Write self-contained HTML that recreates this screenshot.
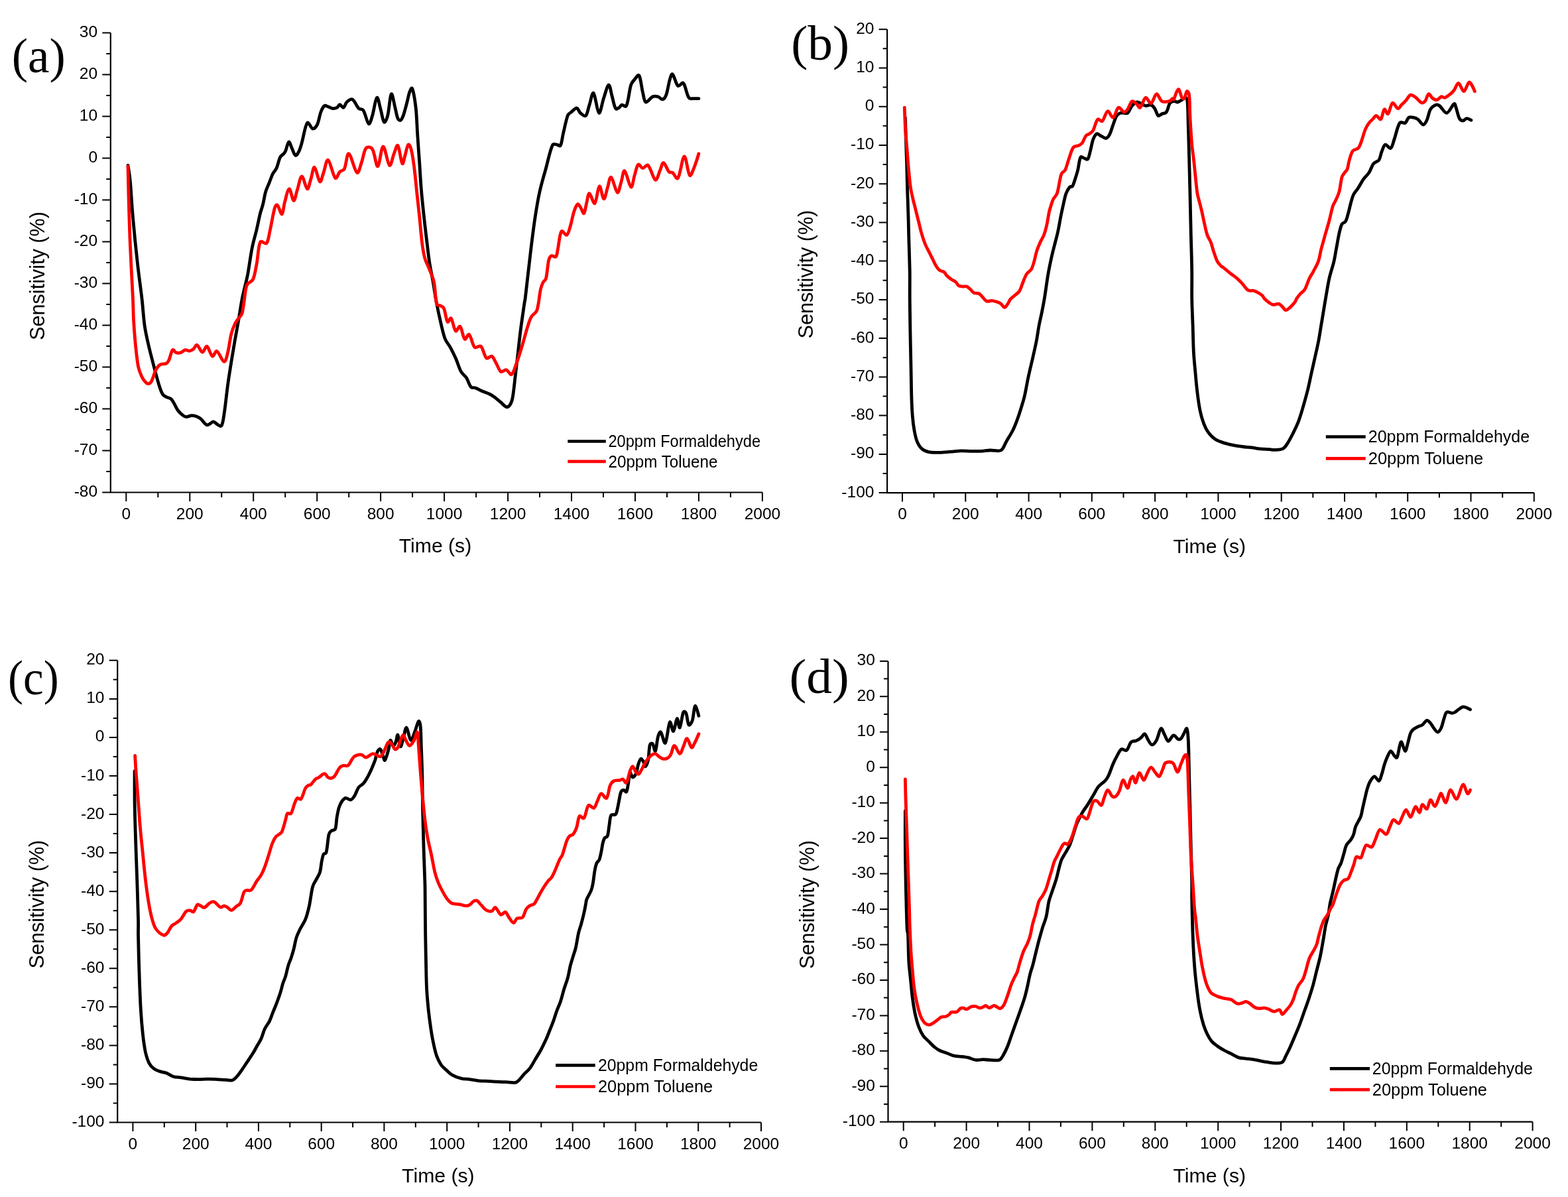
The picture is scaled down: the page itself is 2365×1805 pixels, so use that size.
<!DOCTYPE html>
<html><head><meta charset="utf-8"><title>Sensitivity plots</title>
<style>html,body{margin:0;padding:0;background:#fff;overflow:hidden;}svg{display:block;}</style></head>
<body><svg width="2365" height="1805" viewBox="0 0 2365 1805">
<rect width="100%" height="100%" fill="#fff"/>
<path d="M166.8 49.4V742.5H1149.9" fill="none" stroke="#000" stroke-width="2.2" stroke-linejoin="miter"/>
<path d="M154.3 49.4H166.8M160.3 80.9H166.8M154.3 112.4H166.8M160.3 143.9H166.8M154.3 175.4H166.8M160.3 206.9H166.8M154.3 238.4H166.8M160.3 269.9H166.8M154.3 301.4H166.8M160.3 332.9H166.8M154.3 364.4H166.8M160.3 395.9H166.8M154.3 427.4H166.8M160.3 458.9H166.8M154.3 490.4H166.8M160.3 522H166.8M154.3 553.5H166.8M160.3 585H166.8M154.3 616.5H166.8M160.3 648H166.8M154.3 679.5H166.8M160.3 711H166.8M154.3 742.5H166.8M190.3 742.5V756M238.3 742.5V750M286.3 742.5V756M334.2 742.5V750M382.2 742.5V756M430.2 742.5V750M478.2 742.5V756M526.2 742.5V750M574.1 742.5V756M622.1 742.5V750M670.1 742.5V756M718.1 742.5V750M766.1 742.5V756M814 742.5V750M862 742.5V756M910 742.5V750M958 742.5V756M1006 742.5V750M1053.9 742.5V756M1101.9 742.5V750M1149.9 742.5V756" fill="none" stroke="#000" stroke-width="2"/>
<g font-family="'Liberation Sans', Arial, sans-serif" font-size="24.5"><text x="147.1" y="55.9" text-anchor="end">30</text><text x="147.1" y="118.9" text-anchor="end">20</text><text x="147.1" y="181.9" text-anchor="end">10</text><text x="147.1" y="244.9" text-anchor="end">0</text><text x="147.1" y="307.9" text-anchor="end">-10</text><text x="147.1" y="370.9" text-anchor="end">-20</text><text x="147.1" y="433.9" text-anchor="end">-30</text><text x="147.1" y="496.9" text-anchor="end">-40</text><text x="147.1" y="560" text-anchor="end">-50</text><text x="147.1" y="623" text-anchor="end">-60</text><text x="147.1" y="686" text-anchor="end">-70</text><text x="147.1" y="749" text-anchor="end">-80</text><text x="190.3" y="782.5" text-anchor="middle">0</text><text x="286.3" y="782.5" text-anchor="middle">200</text><text x="382.2" y="782.5" text-anchor="middle">400</text><text x="478.2" y="782.5" text-anchor="middle">600</text><text x="574.1" y="782.5" text-anchor="middle">800</text><text x="670.1" y="782.5" text-anchor="middle">1000</text><text x="766.1" y="782.5" text-anchor="middle">1200</text><text x="862" y="782.5" text-anchor="middle">1400</text><text x="958" y="782.5" text-anchor="middle">1600</text><text x="1053.9" y="782.5" text-anchor="middle">1800</text><text x="1149.9" y="782.5" text-anchor="middle">2000</text></g>
<text x="656.5" y="832.7" text-anchor="middle" font-family="'Liberation Sans', Arial, sans-serif" font-size="30.2">Time (s)</text>
<text transform="translate(67.1 416) rotate(-90)" text-anchor="middle" font-family="'Liberation Sans', Arial, sans-serif" font-size="30.6">Sensitivity (%)</text>
<text transform="translate(17.8 109.1) scale(0.987 1)" font-family="'Liberation Serif', 'Times New Roman', serif" font-size="74">(a)</text>
<path d="M856.3 665.5H913.8" stroke="#000" stroke-width="4.7"/>
<path d="M856.3 695.9H913.8" stroke="#f00" stroke-width="4.7"/>
<g font-family="'Liberation Sans', Arial, sans-serif" font-size="24.9"><text transform="translate(917.5 674.2) scale(0.9480 1)">20ppm Formaldehyde</text><text transform="translate(917.5 704.6) scale(0.9710 1)">20ppm Toluene</text></g>
<path d="M193 249.4C193 249.4 195.3 262.4 196.3 272.6C197.8 288.3 198.6 307.8 200.4 327.1C202.3 348.7 204.8 373.7 207.2 395.3C209.3 414.7 212 433 214 450.1C215.7 464.8 216.3 478.4 218.1 490.9C219.5 501.1 221.4 508.6 223.5 518.2C225.9 528.6 228.9 540.2 231.7 550.9C234.4 561.1 237.2 572.2 239.9 580.8C241.7 586.8 243.2 591 245.3 594.5C246.8 596.9 248.8 597.5 250.8 598.6C252.9 599.7 255.8 599.9 257.6 601.3C259.4 602.6 260.2 604.3 261.7 606.7C263.8 610.2 266 615.5 268.5 619C270.6 621.9 273.1 624.1 275.3 625.8C277.1 627.2 278.7 628.4 280.8 628.6C283.2 628.7 286.3 626.8 289 626.6C291.3 626.5 293.6 627 295.8 627.7C298.1 628.5 300.2 629.4 302.6 631.3C305.7 633.8 308.8 640 312.1 640.8C315.1 641.6 318.9 636.2 321.7 635.9C323.9 635.7 325.1 638.4 327.1 639.5C329.2 640.5 332.5 644.1 333.9 642.2C336.2 639.1 336.8 632.5 338 624.5C340 612 341.6 594.7 343.5 580.8C345.2 568.3 347.1 557 348.9 545.4C350.7 534.3 352.5 523.4 354.4 512.7C356.2 502.5 358.1 492.9 359.8 482.7C361.7 472 363.1 461.1 365.3 450C367.6 438.3 371 426.7 373.5 414.4C376 401.2 377.8 385.9 380.3 373.5C382.3 363.2 385 355.1 387.1 346.2C389.1 337.8 390.7 328.9 392.5 321.7C393.9 316.2 395.4 313.1 396.6 308C398.1 302.2 399 294.8 400.7 289C402.2 283.9 404.4 279.9 406.2 275.3C408 270.8 409.6 265.7 411.6 261.7C413.3 258.4 415.5 257 417.1 253.5C419.2 248.9 420.4 241.5 422.5 237.2C424 234.3 426.5 233.5 428 231.7C429.2 230.3 429.8 229.8 430.7 227.6C432.3 223.9 433.9 214.7 435.6 214C437.1 213.4 438.6 220.2 440.3 223.5C442 227.1 443.7 233.7 445.7 234.4C447.4 235.1 449.7 230.5 451.2 227.6C452.9 224.1 453.6 220.9 455.2 215.4C457.7 206.8 460.1 189.7 463.4 185.4C465.5 182.7 468.9 193.6 471.6 194.1C473.9 194.5 476.8 191.5 478.4 188.1C480.9 183.1 481.8 174.5 483.9 169C485.4 164.9 487.2 161.1 489.3 159.5C490.8 158.3 492.9 160.2 494.8 160.8C497 161.6 499.3 163.3 501.6 163.6C503.8 163.8 506.5 163.2 508.4 162.2C510.2 161.2 511 157.6 512.5 157.6C514.1 157.6 516.3 162.8 517.9 162.2C519.9 161.5 521 155.6 523.4 153.5C525.6 151.5 529.1 148.5 531.6 149.9C535 151.9 537.8 160.3 541.1 163.6C543.3 165.7 546.1 163.5 547.9 166.3C551.1 171.2 553.6 185.2 556.1 186.7C558.1 187.9 559.9 179.9 561.6 174.5C564 166.7 566.1 149.2 568.4 147.2C570.2 145.6 572.1 157.7 573.8 163.6C575.7 170 577.2 181.9 579.3 184C580.8 185.5 583.4 179.6 584.7 174.5C587 165.5 588.1 144.3 590.2 141.8C591.8 139.8 594 154.6 595.6 160.8C597.2 166.8 598.1 174.1 600 178.6C601 180.9 602.9 181.9 604.1 181.3C605.6 180.5 606.9 177.8 608.2 174.5C610.1 169.2 612 161.5 613.6 155.4C615.2 149.7 616.1 143.5 617.7 139C618.8 136.2 620.8 131 621.8 133.6C624 139.1 626 152.4 627.3 163.6C628.7 176.9 629 193.1 630 207.2C630.9 220.4 631.8 232.4 632.7 245.3C633.6 258.7 634.3 272.6 635.4 286.2C636.6 299.9 638.1 314 639.5 327.1C640.8 339.4 642.2 351 643.6 362.6C645 373.7 646.1 384.6 647.7 395.3C649.3 405.5 651.5 415.7 653.2 425.3C654.7 433.9 655.7 441.6 657.2 450C658.9 458.9 660.5 467.7 662.7 477.3C665.1 487.7 667.6 500.8 670.9 510C673.1 516.3 676.4 518.8 679.1 523.6C681.9 528.8 684.6 534.1 687.2 540C690.1 546.4 692.3 554.7 695.4 560.4C697.8 564.7 701.2 566.3 703.6 569.9C706.2 574 707.7 580.6 710.4 583.6C712.2 585.6 714.9 584.1 717.2 584.9C719.9 585.9 722.2 587.6 725.4 589C729.5 590.8 735 592.5 739 594.5C742.3 596.1 744.5 597.9 747.2 599.9C750 602 752.7 604.5 755.4 606.7C758.1 609 761 612.8 763.6 613.6C765.5 614.1 767.7 612.7 769 610.8C770.9 608.2 772.1 605.4 773.1 599.9C774.8 590.8 775.9 578.4 777.2 567.2C778.6 555.6 779.9 543.6 781.3 531.8C782.6 520 783.8 508.4 785.4 496.3C787 483.8 789.3 468.7 790.8 458.2C791.5 453.3 791.6 454.8 792.2 450.1C793.4 440.2 794.8 427.1 796.3 414.4C798 399.8 799.9 383 801.7 368C803.5 353.9 805.1 340.5 807.2 327.1C809.2 314.2 811.2 301.4 814 289C816.7 276.9 820.3 265.2 823.5 253.5C826.7 242 829.3 227.6 833.1 219.4C834.8 215.8 837.7 218.1 839.9 218.1C841.8 218.1 844.2 221.4 845.3 219.4C847.4 215.9 847.8 208.4 849.4 201.7C851.4 193.4 853.6 181.6 856.2 174.5C857.7 170.7 859.6 170.8 861.7 169C864.1 167 867.5 162.8 869.9 163C872.1 163.2 873.1 168.5 875.3 170.4C877.6 172.3 881.6 176.2 883.5 174.5C886.1 172.1 887 163.7 889 158.1C891 152.3 893.1 138.6 895.2 140.4C897.9 142.7 900.7 169.2 903.4 170.4C905.8 171.4 908.2 154.6 910.8 147.2C913.1 140.5 916 128.6 918.1 128.1C920.1 127.7 921.4 138.8 923 144.5C924.8 150.6 926.1 159.7 928.5 163.6C929.7 165.6 932.4 163.1 933.9 162.2C935.5 161.3 936.3 158.5 938 158.1C939.9 157.6 943.4 162.6 944.8 159.5C947.9 152.7 949 136.6 951.7 128.1C953.1 123.4 955 122.4 957.1 119.9C959.1 117.6 962.4 111.6 963.9 113.9C966.5 117.9 967.5 131.5 969.4 139C970.9 144.9 971.4 152.8 974 154C976.4 155.1 980.9 147.4 984.4 145.8C987.1 144.6 990 145.2 992.5 145.8C995 146.5 997.4 150.4 999.4 149.9C1001.5 149.5 1003.4 146.9 1004.8 143.1C1007.1 136.9 1008.3 126.4 1010.3 119.9C1011.5 115.9 1012.7 110.5 1014.4 111.8C1016.8 113.7 1019.3 126.8 1022.5 129.5C1024.8 131.3 1028.6 123.1 1030.7 125.4C1034.1 129 1035.5 142.4 1038.9 147.2C1040.9 150.1 1044.4 148.3 1047.1 148.6C1049.4 148.8 1053.9 148.6 1053.9 148.6" fill="none" stroke="#000" stroke-width="4.8" stroke-linejoin="round" stroke-linecap="round"/>
<path d="M193 250.8C193 250.8 193.6 281.9 194.1 299.9C194.7 321 195.3 344.1 196.3 368C197.4 394.2 199.3 426.4 200.4 450.1C201.1 465.6 201 473.6 201.7 485.4C202.4 497.3 203.3 509.4 204.5 520.9C205.6 531.8 206.7 543.6 208.5 552.8C209.8 559.2 211.7 563.4 213.7 567.8C215.3 571.2 217.2 573.9 219.2 575.9C220.6 577.5 222.3 578.9 223.8 578.7C225.5 578.4 227.4 577 228.7 574.6C230.8 570.7 232.3 563.8 234.2 559.6C235.5 556.6 236.7 554.6 238.3 552.8C239.5 551.2 240.7 550.2 242.6 549.5C244.9 548.6 248.7 549.3 250.8 548.1C252.7 547.1 253.6 545.4 254.9 542.7C256.8 538.6 258.1 529.9 260.3 527.7C261.8 526.3 263.7 531.1 265.8 531.8C267.8 532.5 270.4 532.4 272.6 531.8C275 531.1 277.1 528.2 279.4 527.7C281.6 527.3 284.1 529.3 286.2 529.1C288.2 528.8 290 527.7 291.7 526.3C293.6 524.8 295.2 519.6 297.1 520.3C299.7 521.3 302.7 530.9 305.3 531.2C307.7 531.5 309.9 521.3 312.1 522.2C314.9 523.3 317.5 535.9 320.3 537.2C322.5 538.3 324.6 528.4 327.1 529.6C330.5 531.2 335.1 545 338 545.4C340.6 545.8 342 537.6 343.5 531.8C345.6 523.5 346.8 511.5 348.9 503.2C350.5 497 352.3 492.5 354.4 488.2C356 484.8 358 482.7 359.8 480C361.7 477.3 364 476.8 365.3 471.8C367.7 462.2 368.9 446 370.7 436.2C371.6 431.4 371.7 430.4 373.5 428C375.4 425.4 379.8 425.2 381.6 421.2C384.4 415.2 385.4 406.5 387.1 398C389.1 387.9 389.3 372.1 392.5 365.3C394.3 361.6 400.1 369.2 402.1 366.7C405.1 362.9 405.7 354.1 407.5 346.2C409.8 336.3 411.8 322.2 414.4 313.5C415.4 309.9 417.1 308.2 418.4 309.4C420.7 311.4 423.5 323.7 425.3 323C427.2 322.3 427.6 311.4 429.4 305.3C431.2 298.7 433.8 285.3 436.2 284.9C438.4 284.4 440.9 302.4 443 302.6C445 302.8 446.5 292 448.4 286.2C450.6 279.8 452.7 266 455.2 265.8C457.7 265.6 461 284.1 463.4 284.9C465.5 285.5 467.1 275.1 468.9 269.9C470.8 264.2 472.2 251.5 474.3 252.2C476.7 252.9 480 272.4 482.5 274C484.5 275.2 486.1 265.3 488 260.3C490.2 254.4 492.1 240 494.8 241.3C498 242.7 502.1 264.9 505.7 268.5C508 270.8 510 261.5 512.5 259C514.5 256.9 517.7 258.2 519.3 254.9C522.2 249.1 523.1 230.9 526.1 231.7C529.5 232.7 534.7 257.7 538.4 260.3C541.1 262.2 543.1 251 545.2 245.3C547.7 238.7 548.7 227.7 552 223.5C554.2 220.9 559.4 221.5 561.6 224.9C565.3 230.6 567.1 251.5 569.7 250.8C572.6 250.1 574.9 221 577.9 220.8C580.9 220.6 584.4 247.4 587.5 249.4C589.9 251 592 237.1 594.3 231.7C596.2 227.1 598.3 217.4 600 219.4C602.5 222.4 604.6 243.7 606.8 246.7C608.3 248.7 609.5 238.9 610.9 234.4C612.5 229.3 614 219.6 615.8 218.1C617.2 216.9 619.3 222.1 620.4 226.3C622.2 233 623.3 241.5 624.5 250.8C626 262.4 627.3 276.2 628.6 289C630 301.7 631.4 314.2 632.7 327.1C634.1 340.5 635.2 356 636.8 368C638 376.9 639 383.1 640.9 389.8C642.6 395.8 645.5 400.5 647.7 406.2C650.1 412.3 652.9 417.7 654.5 425.3C656.6 435 656.4 449.9 658.6 458.2C659.6 461.7 662.3 459.8 664.1 460.9C665.9 462.1 668.2 462 669.5 465C671.8 470.2 672.7 482.3 675 485.4C676.3 487.3 678.9 478.3 680.4 480C682.9 482.8 684.5 496.6 687.2 499.1C689.1 500.7 692.2 490.6 694 492.3C696.7 494.7 698.2 508.9 700.9 511.3C702.7 513 705.7 502.9 707.7 504.5C710.7 507 712.3 520.1 715.9 523.6C718.2 526 723 520 725.4 522.2C728.9 525.4 730.3 537 733.6 540C735.8 542 739.5 536 741.8 537.2C744.5 538.7 746.3 544.4 748.6 548.1C750.9 552.1 752.6 558.6 755.4 560.4C757.6 561.8 761 557 763.6 557.7C766.4 558.4 769.5 566.2 771.7 564.5C774.9 562.1 777.4 552.4 779.9 545.4C782.8 537.4 785.4 528.4 788.1 519.5C790.9 510.2 793.6 499.2 796.3 490.9C798.1 485.1 799.4 481.3 801.7 477.3C803.9 473.5 808.2 473 809.9 467.7C812.7 459.3 813.4 445 815.4 436.2C816.6 430.8 817.9 428.4 819.4 425.3C820.6 422.9 822.6 423.4 823.5 419.8C825.4 412.5 825.9 399.9 827.6 392.5C828.6 388.6 829.8 386.7 831.7 385.7C833.5 384.9 837.1 388.5 838.5 387.1C840.3 385.3 840.2 381.1 841.3 376.2C842.9 368.4 843.9 353.5 846.7 348.9C848.4 346.2 852.8 355.6 854.9 354.4C857.4 352.9 858.7 346 860.3 340.8C862.3 334.2 863.7 325.2 865.8 318.9C867.3 314.3 869.4 309.4 871.2 308C872.5 307.1 874 310.2 875.3 312.1C877.2 314.8 879.4 322.7 880.8 321.7C882.5 320.4 883.4 310.5 884.9 305.3C886.2 300.5 887 291.5 889 291.7C891.1 291.9 894.9 308.3 897.1 306.7C899.9 304.7 901.5 282 904 280.8C906.1 279.7 908.6 299.4 910.8 299.9C912.7 300.3 914.4 289 916.2 283.5C918 278.1 919.4 266.1 921.7 267.2C924.4 268.4 928.4 288.8 931.2 290.3C933.4 291.5 934.9 280.6 936.7 275.3C938.6 269.7 939.8 256.6 942.1 257.6C944.8 258.8 948.9 280.9 951.7 282.1C953.9 283.2 955.3 270.2 957.1 264.4C958.9 258.8 960.2 250.2 962.6 248.1C964.3 246.6 966.9 253.3 969.4 253.5C971.9 253.8 975.1 247.2 977.6 249.4C981.5 253.1 985.2 269.7 988.5 271.2C991.1 272.4 993.2 262.1 995.3 257.6C997.3 253.4 998.6 245.1 1000.7 245.3C1003.1 245.6 1006.1 255.8 1008.9 259C1010.6 260.8 1012.5 259 1014.4 260.3C1017 262.2 1020.4 271.5 1022.5 268.5C1026.3 263.3 1029 236.5 1032.1 235.8C1034.9 235.1 1037.3 261.2 1040.3 264.4C1042.3 266.6 1045 257 1047.1 252.2C1049.6 246.1 1053.9 231.7 1053.9 231.7" fill="none" stroke="#f00" stroke-width="4.8" stroke-linejoin="round" stroke-linecap="round"/>
<path d="M1338.1 44.2V743.1H2313.8" fill="none" stroke="#000" stroke-width="2.2" stroke-linejoin="miter"/>
<path d="M1325.6 44.2H1338.1M1331.6 73.3H1338.1M1325.6 102.4H1338.1M1331.6 131.6H1338.1M1325.6 160.7H1338.1M1331.6 189.8H1338.1M1325.6 218.9H1338.1M1331.6 248H1338.1M1325.6 277.2H1338.1M1331.6 306.3H1338.1M1325.6 335.4H1338.1M1331.6 364.5H1338.1M1325.6 393.6H1338.1M1331.6 422.8H1338.1M1325.6 451.9H1338.1M1331.6 481H1338.1M1325.6 510.1H1338.1M1331.6 539.3H1338.1M1325.6 568.4H1338.1M1331.6 597.5H1338.1M1325.6 626.6H1338.1M1331.6 655.7H1338.1M1325.6 684.9H1338.1M1331.6 714H1338.1M1325.6 743.1H1338.1M1361 743.1V756.6M1408.6 743.1V750.6M1456.3 743.1V756.6M1503.9 743.1V750.6M1551.6 743.1V756.6M1599.2 743.1V750.6M1646.8 743.1V756.6M1694.5 743.1V750.6M1742.1 743.1V756.6M1789.8 743.1V750.6M1837.4 743.1V756.6M1885 743.1V750.6M1932.7 743.1V756.6M1980.3 743.1V750.6M2028 743.1V756.6M2075.6 743.1V750.6M2123.2 743.1V756.6M2170.9 743.1V750.6M2218.5 743.1V756.6M2266.2 743.1V750.6M2313.8 743.1V756.6" fill="none" stroke="#000" stroke-width="2"/>
<g font-family="'Liberation Sans', Arial, sans-serif" font-size="24.5"><text x="1318.4" y="50.7" text-anchor="end">20</text><text x="1318.4" y="108.9" text-anchor="end">10</text><text x="1318.4" y="167.2" text-anchor="end">0</text><text x="1318.4" y="225.4" text-anchor="end">-10</text><text x="1318.4" y="283.7" text-anchor="end">-20</text><text x="1318.4" y="341.9" text-anchor="end">-30</text><text x="1318.4" y="400.1" text-anchor="end">-40</text><text x="1318.4" y="458.4" text-anchor="end">-50</text><text x="1318.4" y="516.6" text-anchor="end">-60</text><text x="1318.4" y="574.9" text-anchor="end">-70</text><text x="1318.4" y="633.1" text-anchor="end">-80</text><text x="1318.4" y="691.4" text-anchor="end">-90</text><text x="1318.4" y="749.6" text-anchor="end">-100</text><text x="1361" y="783.1" text-anchor="middle">0</text><text x="1456.3" y="783.1" text-anchor="middle">200</text><text x="1551.6" y="783.1" text-anchor="middle">400</text><text x="1646.8" y="783.1" text-anchor="middle">600</text><text x="1742.1" y="783.1" text-anchor="middle">800</text><text x="1837.4" y="783.1" text-anchor="middle">1000</text><text x="1932.7" y="783.1" text-anchor="middle">1200</text><text x="2028" y="783.1" text-anchor="middle">1400</text><text x="2123.2" y="783.1" text-anchor="middle">1600</text><text x="2218.5" y="783.1" text-anchor="middle">1800</text><text x="2313.8" y="783.1" text-anchor="middle">2000</text></g>
<text x="1824.3" y="833.9" text-anchor="middle" font-family="'Liberation Sans', Arial, sans-serif" font-size="30.2">Time (s)</text>
<text transform="translate(1225.8 413.6) rotate(-90)" text-anchor="middle" font-family="'Liberation Sans', Arial, sans-serif" font-size="30.6">Sensitivity (%)</text>
<text transform="translate(1193.2 90) scale(1.018 1)" font-family="'Liberation Serif', 'Times New Roman', serif" font-size="74">(b)</text>
<path d="M1999.8 658.6H2059.7" stroke="#000" stroke-width="4.7"/>
<path d="M1999.8 691.3H2059.7" stroke="#f00" stroke-width="4.7"/>
<g font-family="'Liberation Sans', Arial, sans-serif" font-size="24.9"><text transform="translate(2063.8 667.3) scale(1.0050 1)">20ppm Formaldehyde</text><text transform="translate(2063.8 700) scale(1.0220 1)">20ppm Toluene</text></g>
<path d="M1365.4 177.2C1365.4 177.2 1365.9 194.2 1366.2 204.5C1366.6 217 1367.1 231.7 1367.6 245.3C1368 259 1368.2 272.6 1368.6 286.2C1369.1 299.9 1369.6 314.2 1370 327.1C1370.3 338.7 1370.5 347.6 1370.8 359.8C1371.2 374.8 1371.9 393.2 1372.2 408.9C1372.4 423.3 1372.1 435.2 1372.2 450C1372.3 467.1 1372.7 486.3 1373 504.5C1373.3 522.7 1373.8 542 1374.1 559C1374.4 573.8 1374.5 587.4 1374.9 599.9C1375.2 610.1 1375.6 618.6 1376.3 627.2C1376.9 634.9 1377.8 642.2 1379 649C1380.1 654.9 1381.1 660.5 1383.1 665.4C1384.8 669.6 1386.9 673.5 1389.9 676.3C1392.8 679 1396.6 680.8 1400.8 681.7C1405.7 682.8 1411.7 682.3 1417.2 682.3C1422.6 682.2 1428.1 681.6 1433.5 681.2C1439 680.8 1444.4 679.9 1449.9 679.8C1455.3 679.7 1461 680.3 1466.2 680.3C1471 680.4 1475.3 680.6 1479.9 680.3C1484.4 680.1 1488.7 679.2 1493.5 679C1498.7 678.7 1505.7 681.3 1509.9 679C1513.9 676.7 1515.2 670.1 1518 665.4C1521.1 660.1 1524.8 654.5 1527.6 649C1530.3 643.6 1532.3 638.1 1534.4 632.6C1536.4 627.2 1538.1 622 1539.8 616.3C1541.7 610.2 1543.6 604.3 1545.3 597.2C1547.3 588.8 1548.7 579.2 1550.7 569.9C1552.8 560.2 1555.4 549.5 1557.6 540C1559.5 531.3 1561.4 523.6 1563 515.4C1564.6 507.3 1565.7 498.6 1567.1 490.9C1568.4 484.1 1569.9 478.4 1571.2 471.8C1572.6 464.8 1573.9 458.5 1575.3 450.1C1577.1 439.3 1578.8 425.5 1580.7 414.4C1582.4 404.5 1584.3 395.7 1586.2 387.1C1587.9 379.4 1589.9 372.1 1591.6 365.3C1593.1 359.4 1594.5 354.9 1595.7 348.9C1597.2 342.1 1598.4 334.2 1599.8 327.1C1601.1 320.5 1602.5 314.2 1603.9 308C1605.2 302.4 1606.2 296.5 1608 291.7C1609.4 287.8 1611.5 284.4 1613.4 282.1C1614.7 280.7 1616.5 282.3 1617.5 280.8C1619.2 278.2 1620.3 273.8 1621.6 269.9C1623 265.6 1624.5 261.3 1625.7 256.2C1627.2 250.4 1627.7 241 1629.8 237.2C1630.9 235.1 1633.4 238.1 1635.2 238.5C1637.1 239 1639.5 241.5 1640.7 239.9C1642.7 237.4 1643.5 231 1644.8 226.3C1646.2 221.1 1647.1 214.5 1648.9 209.9C1650.3 206.4 1652.3 202.7 1654.3 201.7C1655.9 200.9 1657.7 203.4 1659.8 204.5C1662.3 205.7 1665.6 208.8 1668 208.5C1670.1 208.3 1671.9 205.9 1673.4 203.1C1675.6 199.1 1677 193 1678.9 188.1C1680.6 183.4 1682.2 178 1684.3 174.5C1685.8 172.1 1687.8 171.1 1689.8 170.4C1691.5 169.7 1693.4 170.4 1695.2 170.4C1697 170.4 1699.1 171.8 1700.7 170.4C1703.1 168.2 1705 162.5 1707.5 159.5C1709.5 157 1712 154.8 1714.3 154C1716.1 153.4 1717.8 154.6 1719.8 155.4C1722.3 156.4 1725.1 159 1727.9 159.5C1730.6 159.9 1733.8 157.4 1736.1 158.1C1738.3 158.8 1740 161.1 1741.6 163.6C1743.6 166.6 1744.9 172.9 1747 174.5C1748.5 175.6 1750.5 172.6 1752.5 171.7C1754.6 170.8 1757.6 171.3 1759.3 169C1761.7 165.8 1762.3 158.6 1764.7 155.4C1766.4 153.1 1769.5 152.9 1771.5 152.7C1773.2 152.5 1774.4 154.2 1775.9 154C1777.7 153.8 1779.4 152.4 1781.4 151.3C1783.5 150.1 1786.5 147 1788.2 147.2C1789.7 147.4 1790.5 148.5 1790.9 152.7C1791.9 163 1791.8 177.4 1792.3 190.8C1792.7 205.6 1793.2 220.8 1793.6 237.2C1794.1 255.3 1794.5 275.1 1795 294.4C1795.4 314.2 1795.9 334.8 1796.3 354.4C1796.8 373 1797.5 391.8 1797.7 408.9C1797.9 423.7 1797.5 436.3 1797.7 450C1797.9 463.6 1798.6 477.3 1799.1 490.9C1799.5 504.5 1799.7 518.8 1800.4 531.8C1801.1 543.4 1802.2 554 1803.2 564.5C1804 574 1804.8 582.7 1805.9 591.8C1807 600.9 1808.3 610.7 1810 619C1811.4 626.1 1813.3 632.3 1815.4 638.1C1817.3 643.2 1819.3 647.6 1822.2 651.7C1825.2 655.8 1829 659.9 1833.2 662.6C1837.2 665.3 1842.2 666.6 1846.8 668.1C1851.3 669.5 1855.9 670.4 1860.4 671.4C1864.9 672.3 1869.5 672.9 1874 673.5C1878.6 674.1 1883.1 674.4 1887.7 674.9C1892.2 675.4 1896.7 676.4 1901.3 676.8C1905.8 677.3 1910.8 677.3 1914.9 677.6C1918.1 677.9 1920.1 678.6 1923.1 678.4C1926.9 678.2 1932.1 678.1 1935.4 676.3C1938.4 674.6 1940 671.5 1942.2 668.1C1945 663.8 1947.7 658.4 1950.4 653.1C1953.2 647.5 1956.1 641.7 1958.5 635.4C1961.1 628.5 1963.2 621.1 1965.4 613.6C1967.7 605.6 1970.1 597.2 1972.2 589C1974.2 580.9 1975.8 572.7 1977.6 564.5C1979.4 556.3 1981.3 548.1 1983.1 540C1984.9 531.8 1986.9 523.6 1988.5 515.4C1990.1 507.3 1991.3 499.1 1992.6 490.9C1994 482.7 1995.5 473.9 1996.7 466.4C1997.7 460.2 1998.3 456.6 1999.4 450.1C2001 441.1 2002.8 429.4 2004.9 419.8C2006.8 411.1 2009.8 403.3 2011.7 395.3C2013.5 387.8 2014.4 380.7 2015.8 373.5C2017.2 366.2 2018.4 358.2 2019.9 351.7C2021.1 346.4 2022.1 341.5 2024 338C2025.3 335.6 2028.1 336.2 2029.4 333.9C2031.3 330.8 2032.2 326.1 2033.5 321.7C2035 316.6 2036.2 310.4 2037.6 305.3C2038.9 300.9 2039.8 296.8 2041.7 293C2043.5 289.5 2046.2 287.1 2048.5 283.5C2051.2 279.4 2053.8 274 2056.7 269.9C2059.3 266.2 2062.5 264 2064.9 260.3C2067.5 256.3 2068.9 250.2 2071.7 246.7C2073.9 243.9 2078 244 2079.9 241.3C2082 238.1 2082.3 232.9 2083.9 229C2085.5 225.2 2087 219 2089.4 218.1C2091.5 217.2 2095.5 224.8 2097.6 223.5C2100.1 222 2101.1 215.4 2103 209.9C2105.6 202.6 2107.7 190.6 2111.2 185.4C2113.2 182.4 2117.2 186.7 2119.4 185.4C2121.8 183.9 2122.6 178.7 2124.8 177.2C2126.7 176 2129.4 176.7 2131.7 177.2C2134 177.7 2136.3 178.3 2138.5 179.9C2141.2 181.9 2144.2 187.9 2146.6 188.1C2148.8 188.3 2150.6 184.5 2152.1 181.3C2154.2 176.8 2155 169.3 2157.5 164.9C2159.5 161.5 2163.1 159.2 2165.7 158.1C2167.6 157.3 2169.1 157.9 2171.2 159.5C2174.6 162 2178.6 170.8 2182.1 170.4C2185.8 169.9 2190 158.8 2193 156.7C2194.6 155.6 2194.8 158.4 2195.7 160.8C2197.5 165.6 2198.9 174.1 2201.2 178.6C2202.5 181.2 2204.8 182.1 2206.6 182.1C2208.4 182.1 2210.1 178.7 2212.1 178.6C2214.2 178.4 2218.9 181.3 2218.9 181.3" fill="none" stroke="#000" stroke-width="4.8" stroke-linejoin="round" stroke-linecap="round"/>
<path d="M1364.3 162.2C1364.3 162.2 1364.8 180.7 1365.4 190.8C1366 202.1 1367.2 214.7 1368.1 226.3C1369 237.4 1369.8 248.8 1370.8 259C1371.7 267.8 1372.3 275.8 1373.5 283.5C1374.6 290.4 1376.2 296.5 1377.6 302.6C1379 308.3 1380.4 313.5 1381.7 318.9C1383.1 324.4 1384.5 329.9 1385.8 335.3C1387.2 340.8 1388.3 346.2 1389.9 351.7C1391.5 357.1 1393.4 363.1 1395.4 368C1397 372.2 1399 375.3 1400.8 378.9C1402.6 382.6 1404.4 386.2 1406.3 389.8C1408.1 393.5 1409.7 397.5 1411.7 400.7C1413.4 403.4 1415 405.9 1417.2 407.5C1419.1 409.1 1422.1 408.9 1424 410.3C1425.8 411.6 1426.4 414 1428.1 415.7C1430 417.6 1432.6 419.5 1434.9 421.2C1437.1 422.7 1439.8 423.6 1441.7 425.3C1443.4 426.8 1444 429.6 1445.8 430.7C1447.6 431.9 1450.4 431.8 1452.6 432.1C1454.5 432.3 1456.3 431.4 1458.1 432.1C1460 432.8 1461.7 434.6 1463.5 436.2C1465.4 437.8 1466.7 440.5 1469 441.6C1471.3 442.8 1474.5 441.2 1477.1 443C1480.8 445.4 1484.4 452.1 1488 454.1C1490.7 455.5 1493.5 453 1496.2 453.3C1499 453.5 1501.9 454.6 1504.4 455.5C1506.5 456.2 1508.1 456.9 1509.9 458.2C1511.8 459.6 1513.5 463.9 1515.3 463.6C1517.2 463.4 1519.2 459 1520.8 456.8C1522.1 454.9 1522.5 452.9 1524 451.2C1525.8 449.1 1528.6 447.2 1530.8 445.2C1533.1 443.1 1535.8 441.8 1537.7 438.9C1539.9 435.2 1541.2 429.7 1543.1 425.3C1544.9 421 1546.3 416.4 1548.6 413C1550.4 410.1 1553.6 409 1555.4 406.2C1557.3 403.1 1558.2 399.4 1559.5 395.3C1561 390.3 1561.9 384.1 1563.6 378.9C1565.1 374.1 1567.1 369.6 1569 365.3C1570.7 361.4 1572.9 358.3 1574.5 354.4C1576.1 350.1 1577.3 346 1578.5 340.8C1580.1 334.2 1581.1 325.5 1582.6 318.9C1583.8 313.7 1585.5 309.2 1586.7 305.3C1587.5 302.8 1587.8 301.8 1588.9 299.9C1590.3 297.3 1593 295.5 1594.4 291.7C1596.2 286.4 1597.2 278.3 1598.4 272.6C1599.4 268.3 1599.7 264.7 1601.2 261.7C1602.4 259.2 1605.2 259.2 1606.6 256.2C1608.8 251.9 1610.1 245.4 1612.1 239.9C1614.2 234.1 1615.9 226.2 1618.9 222.2C1620.9 219.4 1624.7 220.6 1627.1 219.4C1629.2 218.4 1631 217.5 1632.5 215.4C1634.6 212.5 1635.8 207.1 1638 204.5C1639.5 202.6 1641.7 203 1643.4 201.7C1645.3 200.3 1647.3 199.2 1648.9 196.3C1651.3 191.9 1652.9 182.7 1655.7 179.9C1657.5 178.1 1660.5 184.3 1662.5 182.6C1665.5 180.2 1667.8 168.6 1670.7 167.7C1673.2 166.8 1676.3 178 1678.9 177.2C1681.8 176.2 1684 163.7 1687 162.2C1689.4 161 1692.7 168.5 1695.2 169C1697.2 169.4 1699 167.2 1700.7 164.9C1703.1 161.7 1704.9 154.2 1707.5 152.7C1709.4 151.5 1712.2 155.1 1714.3 156.7C1716.3 158.3 1717.9 163.5 1719.8 162.2C1722.5 160.3 1725 148.3 1727.9 147.2C1730.4 146.3 1733.6 156.8 1736.1 155.9C1739.1 154.9 1741.4 142.3 1744.3 141.8C1746.9 141.2 1749.1 150.7 1752.5 152.7C1755.5 154.4 1760.3 153.4 1763.4 152.7C1765.8 152.1 1767.3 149.2 1768.8 148.6C1769.7 148.2 1769.9 150.9 1770.5 149.9C1771.8 147.7 1773 142 1774.5 139C1775.6 137 1777 133.9 1778.1 134.9C1779.7 136.6 1780.9 144.3 1782.7 147.2C1783.7 148.8 1785.4 149.7 1786.3 148.6C1787.8 146.5 1788.7 138.7 1790.1 137.7C1791.1 136.9 1793.1 139.1 1793.6 143.1C1794.8 152.3 1794.3 165.3 1795 177.2C1795.7 190.3 1796.7 206 1797.7 218.1C1798.5 226.9 1799.6 232.2 1800.4 239.9C1801.4 248.5 1802.2 258.3 1803.2 267.2C1804 275.6 1804.8 284.6 1805.9 291.7C1806.6 296.4 1807.6 298.5 1808.6 302.6C1809.9 307.6 1811.4 313.3 1812.7 318.9C1814.1 325.1 1815.4 331.9 1816.8 338C1818.1 343.7 1819.2 349.5 1820.9 354.4C1822.3 358.6 1824.8 361.4 1826.3 365.3C1828 369.5 1828.9 374.3 1830.4 378.9C1832.1 383.8 1833.8 389.7 1835.9 393.9C1837.4 397 1839.4 398.8 1841.3 400.7C1843 402.4 1844.8 403.2 1846.8 404.8C1849.3 406.8 1852 409.3 1855 411.6C1858.3 414.3 1862.6 417 1865.9 419.8C1868.9 422.4 1871.4 425.1 1874 428C1876.8 431 1879.2 435.6 1882.2 437.5C1884.7 439.1 1887.9 437.9 1890.4 438.3C1892.5 438.8 1893.9 439.2 1895.8 440.3C1898.4 441.6 1901.9 443.8 1904 445.7C1905.5 447.1 1905.3 448.5 1906.8 450C1908.9 452.2 1912.3 455 1914.9 456.8C1916.9 458.2 1918.3 459.3 1920.4 459.5C1922.8 459.8 1926.2 457.7 1928.6 458.2C1930.7 458.6 1932.3 460.7 1934 462.3C1935.9 463.9 1937.5 467.6 1939.5 467.7C1941.5 467.9 1944.1 465 1946.3 463.1C1948.7 460.9 1951.3 457.9 1953.1 455.5C1954.5 453.6 1954.6 451.9 1955.8 450.1C1957.3 447.8 1959.3 445.3 1961.3 443C1963.4 440.6 1966.2 439.4 1968.1 436.2C1970.7 431.7 1972.6 424.6 1974.9 419.8C1976.7 416 1978.4 414 1980.4 410.3C1982.9 405.4 1986.5 399.6 1988.5 393.9C1990.6 388.2 1991 382.6 1992.6 376.2C1994.6 368.6 1997.3 359.4 1999.4 351.7C2001.4 344.8 2003.1 339.2 2004.9 332.6C2006.8 325.5 2008.4 316.9 2010.3 310.8C2011.6 306.9 2013 305.8 2014.4 302.6C2016.2 298.5 2018.5 294.3 2019.9 289C2021.6 282.4 2022.3 273.1 2024 267.2C2025 263.6 2026.6 262.5 2028.1 260.3C2029.4 258.4 2031.2 257.4 2032.2 254.9C2033.5 251.5 2033.6 246.9 2034.9 242.6C2036.3 237.8 2037.7 231.2 2040.3 227.6C2042.3 224.9 2046.5 225.6 2048.5 223.5C2050.6 221.5 2051.2 219.1 2052.6 215.4C2054.8 209.6 2057 200.7 2059.4 194.9C2061.1 190.7 2062.9 188.1 2064.9 185.4C2066.5 183.1 2068.5 181.7 2070.3 179.9C2072.1 178.1 2073.8 174.5 2075.8 174.5C2077.9 174.5 2080.8 181.3 2082.6 179.9C2084.9 178.1 2085.9 166.5 2088 164.9C2089.6 163.8 2091.8 173.1 2093.5 171.7C2095.9 169.9 2097.5 156.9 2100.3 155.4C2102.5 154.2 2106 163.1 2108.5 163.6C2110.5 164 2112 160 2113.9 158.1C2116.1 156 2118.5 153.7 2120.7 151.3C2123.1 148.7 2125 143.8 2127.6 143.1C2130 142.5 2133.2 145.4 2135.7 147.2C2138.6 149.3 2141.3 153.8 2143.9 154.8C2145.8 155.6 2147.9 154.4 2149.4 152.7C2151.5 150.1 2152.8 142.7 2154.8 141.8C2156.5 141 2158.2 146.2 2160.3 147.8C2162.3 149.2 2164.9 151.1 2167.1 150.7C2169.4 150.4 2171.7 146.5 2173.9 145.8C2175.7 145.3 2177.4 147.8 2179.4 147.2C2181.9 146.4 2185.1 143.7 2187.5 141.8C2189.7 140 2191.2 138.7 2193 136.3C2195.3 133.2 2197.4 125.2 2199.8 125.4C2202.4 125.6 2205.3 137.9 2208 137.7C2210.8 137.4 2213.4 124 2216.2 124C2218.9 124 2224.3 137.7 2224.3 137.7" fill="none" stroke="#f00" stroke-width="4.8" stroke-linejoin="round" stroke-linecap="round"/>
<path d="M177.2 995.8V1692.5H1148" fill="none" stroke="#000" stroke-width="2.2" stroke-linejoin="miter"/>
<path d="M164.7 995.8H177.2M170.7 1024.8H177.2M164.7 1053.9H177.2M170.7 1082.9H177.2M164.7 1111.9H177.2M170.7 1140.9H177.2M164.7 1170H177.2M170.7 1199H177.2M164.7 1228H177.2M170.7 1257.1H177.2M164.7 1286.1H177.2M170.7 1315.1H177.2M164.7 1344.2H177.2M170.7 1373.2H177.2M164.7 1402.2H177.2M170.7 1431.2H177.2M164.7 1460.3H177.2M170.7 1489.3H177.2M164.7 1518.3H177.2M170.7 1547.4H177.2M164.7 1576.4H177.2M170.7 1605.4H177.2M164.7 1634.4H177.2M170.7 1663.5H177.2M164.7 1692.5H177.2M200.4 1692.5V1706M247.8 1692.5V1700M295.2 1692.5V1706M342.5 1692.5V1700M389.9 1692.5V1706M437.3 1692.5V1700M484.7 1692.5V1706M532.1 1692.5V1700M579.4 1692.5V1706M626.8 1692.5V1700M674.2 1692.5V1706M721.6 1692.5V1700M769 1692.5V1706M816.3 1692.5V1700M863.7 1692.5V1706M911.1 1692.5V1700M958.5 1692.5V1706M1005.9 1692.5V1700M1053.2 1692.5V1706M1100.6 1692.5V1700M1148 1692.5V1706" fill="none" stroke="#000" stroke-width="2"/>
<g font-family="'Liberation Sans', Arial, sans-serif" font-size="24.5"><text x="157.5" y="1002.3" text-anchor="end">20</text><text x="157.5" y="1060.4" text-anchor="end">10</text><text x="157.5" y="1118.4" text-anchor="end">0</text><text x="157.5" y="1176.5" text-anchor="end">-10</text><text x="157.5" y="1234.5" text-anchor="end">-20</text><text x="157.5" y="1292.6" text-anchor="end">-30</text><text x="157.5" y="1350.7" text-anchor="end">-40</text><text x="157.5" y="1408.7" text-anchor="end">-50</text><text x="157.5" y="1466.8" text-anchor="end">-60</text><text x="157.5" y="1524.8" text-anchor="end">-70</text><text x="157.5" y="1582.9" text-anchor="end">-80</text><text x="157.5" y="1640.9" text-anchor="end">-90</text><text x="157.5" y="1699" text-anchor="end">-100</text><text x="200.4" y="1732.5" text-anchor="middle">0</text><text x="295.2" y="1732.5" text-anchor="middle">200</text><text x="389.9" y="1732.5" text-anchor="middle">400</text><text x="484.7" y="1732.5" text-anchor="middle">600</text><text x="579.4" y="1732.5" text-anchor="middle">800</text><text x="674.2" y="1732.5" text-anchor="middle">1000</text><text x="769" y="1732.5" text-anchor="middle">1200</text><text x="863.7" y="1732.5" text-anchor="middle">1400</text><text x="958.5" y="1732.5" text-anchor="middle">1600</text><text x="1053.2" y="1732.5" text-anchor="middle">1800</text><text x="1148" y="1732.5" text-anchor="middle">2000</text></g>
<text x="660.9" y="1783" text-anchor="middle" font-family="'Liberation Sans', Arial, sans-serif" font-size="30.2">Time (s)</text>
<text transform="translate(65.8 1363.6) rotate(-90)" text-anchor="middle" font-family="'Liberation Sans', Arial, sans-serif" font-size="30.6">Sensitivity (%)</text>
<text transform="translate(12.1 1047.3) scale(0.933 1)" font-family="'Liberation Serif', 'Times New Roman', serif" font-size="74">(c)</text>
<path d="M838.1 1606.4H897.7" stroke="#000" stroke-width="4.7"/>
<path d="M838.1 1638.5H897.7" stroke="#f00" stroke-width="4.7"/>
<g font-family="'Liberation Sans', Arial, sans-serif" font-size="24.9"><text transform="translate(902 1615.1) scale(0.9960 1)">20ppm Formaldehyde</text><text transform="translate(902 1647.2) scale(1.0200 1)">20ppm Toluene</text></g>
<path d="M203.1 1162.6C203.1 1162.6 202.9 1192.8 203.1 1209C203.3 1226.5 203.9 1245.3 204.5 1263.5C205 1281.7 205.7 1298.7 206.4 1318C207.1 1339.6 208.1 1366.9 208.5 1386.2C208.8 1397.4 208.4 1399.3 208.5 1409.5C208.8 1425.2 209.3 1445.9 209.9 1464C210.5 1482.2 211.1 1501.5 212.1 1518.6C212.9 1533.3 214 1547 215.4 1559.5C216.5 1569.7 217.7 1578.6 219.4 1586.7C220.9 1593.1 222.6 1598.5 224.9 1603.1C226.7 1606.7 229.1 1609.1 231.7 1611.2C234.1 1613.2 236.9 1614.3 239.9 1615.3C243.2 1616.5 247.2 1616.7 250.8 1618.1C254.5 1619.5 258 1622.3 261.7 1623.5C265.2 1624.6 268.7 1624.3 272.6 1624.9C276.9 1625.5 281.7 1626.6 286.2 1627.1C290.8 1627.5 295.3 1627.6 299.9 1627.6C304.4 1627.6 309 1627.1 313.5 1627.1C318 1627.1 322.6 1627.4 327.1 1627.6C331.7 1627.8 336.5 1628.2 340.8 1628.4C344.3 1628.6 347.5 1629.8 350.3 1629C353 1628.2 354.9 1625.9 357.1 1623.5C359.9 1620.5 362.6 1616.4 365.3 1612.6C368.1 1608.7 370.7 1604.4 373.5 1600.3C376.2 1596.3 379.1 1592.2 381.6 1588.1C384.1 1584 386.3 1579.7 388.5 1575.8C390.4 1572.4 392.3 1570 393.9 1566.3C395.9 1561.8 397.2 1555.8 399.4 1551.3C401.3 1547.2 404.2 1544.3 406.2 1540.4C408.3 1536.1 409.8 1531.3 411.6 1526.7C413.4 1522.2 415.3 1517.8 417.1 1513.1C418.9 1508.2 420.9 1503.1 422.5 1498.1C424.1 1493.2 425.2 1487.8 426.6 1483.1C427.9 1479.1 429.5 1476.3 430.7 1472.2C432.2 1467.3 433.3 1460.8 434.8 1455.9C436 1451.7 437.6 1448.8 438.9 1445C440.3 1440.7 441.7 1436.2 443 1431.3C444.4 1425.8 445.4 1419 447.1 1413.6C448.5 1409 450.4 1405.6 452.5 1401.3C454.9 1396.5 458.5 1391.7 460.7 1386.2C463.1 1380.3 464.5 1374.4 466.2 1367.1C468.2 1358 469.4 1345.4 471.6 1337.1C473 1331.8 475.2 1329.8 477.1 1326.2C478.9 1322.6 481.2 1319.5 482.5 1315.3C484 1310.4 484.2 1303.9 485.2 1298.9C486.1 1294.8 486.6 1290.8 488 1288C488.9 1286.2 491.2 1288.3 492 1285.3C494 1278.3 494.3 1265.3 496.1 1258C497 1254.4 498.6 1254 500.2 1252.6C501.8 1251.3 504.7 1252.5 505.7 1249.9C507.4 1245.2 507.2 1236.9 508.4 1230.8C509.5 1225.1 510.3 1219.2 512.5 1214.4C514.4 1210.1 517.6 1205 520.7 1203.5C523.1 1202.3 526.5 1206.7 528.9 1206.2C531.1 1205.8 532.6 1203.4 534.3 1200.8C536.7 1197.1 538.5 1190.8 541.1 1187.2C543.1 1184.4 545.9 1183.9 547.9 1181.7C550 1179.4 551.6 1176.8 553.4 1173.5C555.7 1169.5 558.1 1164.5 560.2 1159.9C562.2 1155.4 564 1150.9 565.7 1146.3C567.2 1141.8 568 1136.1 569.7 1132.6C570.8 1130.6 572.8 1128.8 573.8 1129.9C575.5 1131.6 576.6 1137.7 577.9 1140.8C578.9 1143.1 579.6 1147.6 580.6 1146.3C582.4 1144 584.7 1135.2 586.1 1129.9C587.4 1125.2 587.6 1117.3 588.8 1116.3C589.8 1115.5 591.4 1124 592.9 1124.5C594.2 1124.9 596 1121.4 597 1119C598.3 1115.9 599 1107.1 600 1108.1C601.3 1109.4 602.6 1124.8 604.1 1125.8C605.3 1126.7 606.8 1118 608.2 1113.6C609.8 1108.5 611.3 1096.8 613.1 1097.2C615.1 1097.7 617.3 1115.3 619.6 1116.3C621.6 1117.1 624 1107.4 625.9 1102.7C627.9 1097.8 629.7 1089.3 631.3 1087.7C632.5 1086.6 633.6 1090.2 634.1 1094.5C635 1103.4 635 1115.6 635.4 1127.2C635.9 1140.1 636.5 1153.3 636.8 1168.1C637.2 1185.1 637.3 1204.4 637.6 1222.6C638 1240.8 638.4 1259 639 1277.1C639.5 1295.3 640.5 1316 640.9 1331.6C641.2 1341.9 641.1 1344.7 641.2 1355C641.3 1370.7 641.5 1392.5 641.7 1409.5C641.9 1424.3 642.2 1436.8 642.5 1450.4C642.8 1464 642.9 1478.4 643.6 1491.3C644.2 1502.9 645.3 1514 646.3 1524C647.2 1532.2 648 1538.3 649.1 1545.8C650.2 1553.8 651.5 1562.4 653.2 1570.4C654.7 1577.9 656.4 1585.7 658.6 1592.2C660.5 1597.5 662.8 1601.9 665.4 1605.8C667.8 1609.2 670.8 1611.4 673.6 1614C676.3 1616.4 678.4 1618.9 681.8 1620.8C685.7 1623 690.8 1625.1 695.4 1626.2C699.9 1627.4 704.5 1627 709 1627.6C713.6 1628.2 718.1 1629.3 722.7 1629.8C727.2 1630.2 731.8 1630.1 736.3 1630.3C740.8 1630.6 745.4 1630.9 749.9 1631.1C754.5 1631.4 759 1631.5 763.6 1631.7C768.1 1631.9 773.4 1633 777.2 1632.5C779.8 1632.1 780.7 1630.8 782.6 1629C785.3 1626.4 788 1622.4 790.8 1619.4C793.5 1616.5 796.5 1614.6 799 1611.2C801.9 1607.3 804.5 1602.2 807.2 1597.6C809.9 1593.1 812.7 1588.8 815.4 1584C818.2 1578.8 821.1 1572.9 823.5 1567.6C825.7 1562.9 827.2 1558.5 829 1554C830.8 1549.5 832.7 1545.2 834.4 1540.4C836.3 1535.2 838 1529.2 839.9 1524C841.6 1519.2 843.7 1515.4 845.3 1510.4C847.3 1504.5 848.9 1497.4 850.8 1491.3C852.5 1485.6 854.7 1480.7 856.2 1474.9C857.9 1468.9 858.9 1461.7 860.3 1455.9C861.6 1450.8 863.1 1446.8 864.4 1442.2C865.8 1437.7 867.3 1433.9 868.5 1428.6C870 1422 871.1 1413.4 872.6 1406.8C873.8 1401.5 875.4 1398 876.7 1393.2C878.1 1388 879.6 1382 880.8 1376.8C881.9 1372.1 882.7 1367.2 883.5 1363.2C884.1 1360.3 883.8 1359 884.9 1356.2C886.5 1352.1 890 1346.9 891.7 1342.5C893.2 1338.8 893.6 1336 894.4 1331.6C895.4 1326 896.1 1318.2 897.1 1312.6C897.9 1308.2 898.6 1304.7 899.9 1301.7C900.9 1299.3 903 1298.6 904 1296.2C905.2 1293.1 905.8 1289.3 906.7 1285.3C907.7 1280.7 908.3 1274.6 909.4 1270.3C910.1 1267.3 910.9 1265.2 912.1 1263.5C913.2 1262.1 915.4 1263 916.2 1260.8C917.7 1256.6 918 1249.7 918.9 1244.4C919.8 1239.3 919.8 1232.7 921.7 1229.4C923 1227.2 927 1229.6 928.5 1228.1C930.2 1226.4 930.4 1223.1 931.2 1219.9C932.2 1215.8 933 1210.7 933.9 1206.2C934.8 1202 935.3 1197.1 936.7 1194C937.5 1192.1 939.4 1191.3 940.8 1191.3C942.1 1191.3 944 1195.2 944.8 1194C946.2 1192 946.7 1186.2 947.6 1181.7C948.5 1176.6 949 1167.2 950.3 1165.4C951.2 1164.1 952.8 1172.2 954.4 1172.2C956 1172.2 958.6 1168.2 959.8 1165.4C961.3 1161.9 961.4 1156.8 962.6 1153.1C963.6 1149.8 965.1 1144.8 966.7 1144.1C967.9 1143.5 969.6 1147.1 970.7 1149C971.9 1151 972.4 1156.2 973.5 1155.8C974.7 1155.3 976.6 1150.6 977.6 1146.3C978.9 1139.7 978.7 1128.8 980.3 1123.1C981 1120.6 983.3 1120.5 984.4 1121.7C986.1 1123.7 987.3 1134.2 988.5 1132.6C990 1130.5 990.8 1116.8 992.5 1110.8C993.6 1107.3 995.2 1102.7 996.6 1104C998.8 1105.9 1001.5 1122.5 1003.5 1120.4C1006.1 1117.5 1007.8 1092.6 1010.3 1089C1011.9 1086.6 1014 1103.5 1015.7 1102.7C1017.7 1101.7 1019.5 1084.6 1021.2 1083.6C1022.6 1082.7 1023.9 1098.6 1025.3 1097.2C1027.1 1095.4 1028.5 1079.1 1030.7 1074C1031.7 1071.9 1033.9 1073.3 1034.8 1075.4C1036.6 1079.7 1037 1091 1038.9 1093.1C1040.2 1094.6 1043.1 1090 1044.3 1086.3C1046.3 1080.4 1046.7 1065.7 1048.4 1064.5C1049.9 1063.5 1053.9 1079.5 1053.9 1079.5" fill="none" stroke="#000" stroke-width="4.8" stroke-linejoin="round" stroke-linecap="round"/>
<path d="M203.6 1139.3C203.6 1139.3 204.7 1158.1 205.5 1168.7C206.4 1181 207.5 1194.9 208.5 1208C209.5 1221.1 210.3 1234.2 211.4 1247.3C212.5 1260.4 214 1273.5 215.3 1286.6C216.6 1299.7 217.8 1313.1 219.3 1325.8C220.7 1337.9 222.4 1350.4 224.2 1361.2C225.7 1370.1 227.1 1377.7 229.1 1384.8C230.7 1390.8 232 1396.2 235 1400.5C237.9 1404.7 243.3 1409.1 246.8 1410.3C249.2 1411.1 251 1408.4 252.7 1406.4C254.9 1403.8 256.4 1399.2 258.6 1396.6C260.3 1394.6 262.3 1394.1 264.4 1392.6C266.9 1390.8 269.8 1389.5 272.3 1386.7C275.4 1383.3 278.1 1376.8 281.1 1374C283 1372.2 285.1 1372.8 287 1373C288.7 1373.1 290.5 1376.1 291.9 1374.9C294.1 1373.1 295.6 1365.9 297.8 1364.1C299.2 1362.9 301 1365.2 302.6 1365.9C304.4 1366.7 306.1 1369.2 308 1368.6C310.6 1367.9 313.5 1363.4 316.2 1361.8C318.5 1360.5 320.7 1359 323 1359.9C326.1 1361.1 329.6 1366.9 332.6 1368.1C334.6 1368.9 336.2 1365.8 338 1365.9C339.9 1366 341.7 1367.5 343.5 1368.6C345.3 1369.8 347 1372.9 348.9 1372.7C351.1 1372.5 353.5 1369.1 355.7 1367.3C358 1365.4 360.9 1364.9 362.6 1361.8C365 1357.5 365.9 1349.5 368 1345.3C369.1 1343 370.4 1343 372.1 1342.5C374.1 1342 376.9 1343.8 378.9 1342C381.9 1339.3 384.4 1332.9 387.1 1328.9C389.4 1325.4 391.9 1322.9 393.9 1319.4C396 1315.6 397.7 1311.6 399.4 1307.1C401.3 1302 403 1296.3 404.8 1290.8C406.7 1285 408.3 1278.3 410.3 1273C411.9 1268.8 413.6 1265 415.7 1262.1C417.3 1260 419.5 1259.5 421.2 1258C422.7 1256.7 424.1 1256.6 425.3 1254C427.3 1249.3 429.1 1241.5 430.7 1236.2C431.9 1232.4 431.9 1228.5 433.4 1226.7C434.6 1225.3 437.6 1228.5 438.9 1226.7C441.2 1223.5 442.5 1216.1 444.3 1211.7C445.7 1208.4 446.6 1204.8 448.4 1203.5C449.8 1202.5 452.4 1206.7 453.9 1204.9C456.5 1201.7 458.4 1192.9 460.7 1188.5C462 1186.1 463.3 1185.4 464.8 1184.4C466.1 1183.6 467.5 1184.3 468.9 1183.1C471.1 1181.1 473.4 1177 475.7 1174.9C477.5 1173.3 479.1 1173.4 481.1 1172.2C483.7 1170.6 486.9 1166.7 489.3 1166.7C491.5 1166.7 493 1170.9 494.8 1172.2C496.1 1173.1 497.4 1173.7 498.9 1173.5C500.6 1173.3 502.6 1172.9 504.3 1170.8C507.1 1167.4 509.7 1160.5 512.5 1157.2C514.2 1155.1 516 1154.9 517.9 1154.5C520 1154 522.9 1155.7 524.8 1154.5C527 1153 528.5 1148.8 530.2 1146.3C531.7 1144.2 532.5 1142.2 534.3 1140.8C536.2 1139.4 538.9 1138.5 541.1 1138.1C543 1137.8 544.8 1138 546.6 1138.6C548.5 1139.4 549.8 1142.5 552 1142.2C554.8 1141.8 558.6 1137.5 561.6 1136.7C563.6 1136.2 565.1 1137.5 567 1138.1C569.2 1138.8 571.9 1141.7 573.8 1140.8C576 1139.8 577.5 1135.9 579.3 1132.6C581.5 1128.6 583.6 1120.9 586.1 1119C587.7 1117.7 590 1121.4 591.5 1123.1C593.2 1125 594.1 1129.2 595.6 1129.9C596.9 1130.5 598.9 1129 600 1127.2C601.7 1124.5 602.6 1119.7 604.1 1116.3C605.4 1113.3 606.8 1108.1 608.2 1108.1C609.5 1108.1 610.7 1113.6 612.3 1116.3C613.9 1119.1 615.7 1124.5 617.7 1124.5C619.8 1124.5 622.7 1119.5 624.5 1116.3C626.6 1112.7 628.4 1102.8 629.4 1104C630.7 1105.5 630.7 1116.2 631.3 1124.5C632.2 1135.7 633.1 1150.4 634.1 1162.6C634.9 1174 635.7 1183.8 636.8 1195.3C638 1208.3 639.4 1223.7 640.9 1236.2C642.1 1246.5 643.4 1254.7 645 1263.5C646.5 1271.9 648.7 1279.6 650.4 1288C652.3 1296.9 653.9 1307.2 655.9 1315.3C657.5 1321.7 659.2 1326.5 661.3 1331.6C663.3 1336.5 665.8 1341 668.2 1345.3C670.3 1349.2 672.5 1353.1 675 1356.2C677 1358.8 678.8 1361 681.8 1362.2C685.2 1363.5 690.4 1363.1 694 1363.8C696.8 1364.3 698.6 1365.5 700.9 1365.7C703.1 1365.9 705.6 1366 707.7 1364.9C710.1 1363.7 712.2 1360.1 714.5 1358.9C716.3 1358 718.3 1357.5 719.9 1358.4C721.9 1359.4 723.3 1362.2 725.4 1364.4C727.9 1366.9 730.6 1370.8 733.6 1372.5C736.1 1374 739.4 1374.6 741.8 1373.9C744 1373.2 745.3 1367.7 747.2 1368.4C749.8 1369.5 752.6 1378.1 755.4 1379.4C757.5 1380.3 760.3 1374.6 762.2 1375.3C764.4 1376 765.6 1380.8 767.7 1383.4C769.7 1386.2 772.3 1391.4 774.5 1391.6C776.4 1391.8 777.6 1386.2 779.9 1384.8C782.2 1383.5 786.1 1385.4 788.1 1383.4C790.6 1380.9 791.5 1374.5 793.5 1371.2C795.1 1368.6 796.9 1367.1 799 1365.7C801 1364.4 804 1364.8 805.8 1363C808.1 1360.7 809.3 1356.9 811.3 1353.5C813.4 1349.6 815.6 1345.2 818.1 1341.2C820.6 1337 823.6 1332.3 826.3 1328.9C828.2 1326.4 830.1 1325.9 831.7 1323.5C833.7 1320.4 835.3 1316.7 837.2 1312.6C839.4 1307.6 841.8 1300.8 844 1296.2C845.4 1293.1 846.7 1292.9 848.1 1289.4C850.4 1283.4 852.6 1273.6 854.9 1267.6C856.2 1264 857.3 1262.5 859 1260.8C860.5 1259.3 862.9 1259.9 864.4 1258C866.6 1255.4 868.4 1251.3 869.9 1247.1C871.6 1242.2 871.8 1233.5 874 1230.8C875.4 1229 879.1 1235.6 880.8 1233.5C883.6 1230.1 884.6 1217.4 887.6 1214.4C889.6 1212.4 893.7 1219.6 895.8 1218.5C898.2 1217.3 899.4 1211.2 901.2 1207.6C903 1204 904.3 1197.4 906.7 1196.7C908.9 1196 912.9 1205.2 914.9 1203.5C917.5 1201.2 918.1 1189.6 920.3 1184.4C921.8 1181 923.3 1179 925.8 1177.6C928.3 1176.2 932.6 1176.8 935.3 1176.3C937.1 1175.9 938 1174.3 939.4 1174.9C941.2 1175.7 943.4 1182 944.8 1180.3C947.1 1177.9 948.4 1167.6 950.3 1162.6C951.6 1159.4 952.9 1155.4 954.4 1155.8C956.1 1156.3 957.9 1163.1 959.8 1165.4C961.1 1166.8 962.7 1167.8 963.9 1166.7C965.9 1165 967.6 1160.4 969.4 1157.2C971.2 1154 972.8 1150.6 974.8 1147.6C976.9 1144.7 979.2 1141.4 981.6 1139.5C983.7 1137.8 986.4 1136.5 988.5 1136.7C990.5 1137 992.1 1139.6 993.9 1140.8C995.7 1142 997.4 1143.6 999.4 1144.1C1001.4 1144.6 1004.2 1144.5 1006.2 1143.5C1008.3 1142.5 1010.1 1140.8 1011.6 1138.1C1013.7 1134.4 1014.8 1124.7 1017.1 1124.5C1019.4 1124.2 1022.9 1136.5 1025.3 1136.7C1027.4 1136.9 1028.9 1129.6 1030.7 1125.8C1032.6 1121.9 1034.2 1113.3 1036.2 1113.6C1038.3 1113.8 1040.8 1125.6 1043 1127.2C1044.4 1128.3 1045.6 1124.4 1047.1 1121.7C1049.3 1117.6 1053.9 1106.7 1053.9 1106.7" fill="none" stroke="#f00" stroke-width="4.8" stroke-linejoin="round" stroke-linecap="round"/>
<path d="M1339.5 996.9V1691.7H2311.6" fill="none" stroke="#000" stroke-width="2.2" stroke-linejoin="miter"/>
<path d="M1327 996.9H1339.5M1333 1023.6H1339.5M1327 1050.3H1339.5M1333 1077.1H1339.5M1327 1103.8H1339.5M1333 1130.5H1339.5M1327 1157.2H1339.5M1333 1184H1339.5M1327 1210.7H1339.5M1333 1237.4H1339.5M1327 1264.1H1339.5M1333 1290.9H1339.5M1327 1317.6H1339.5M1333 1344.3H1339.5M1327 1371H1339.5M1333 1397.7H1339.5M1327 1424.5H1339.5M1333 1451.2H1339.5M1327 1477.9H1339.5M1333 1504.6H1339.5M1327 1531.4H1339.5M1333 1558.1H1339.5M1327 1584.8H1339.5M1333 1611.5H1339.5M1327 1638.3H1339.5M1333 1665H1339.5M1327 1691.7H1339.5M1362.7 1691.7V1705.2M1410.1 1691.7V1699.2M1457.6 1691.7V1705.2M1505 1691.7V1699.2M1552.5 1691.7V1705.2M1599.9 1691.7V1699.2M1647.4 1691.7V1705.2M1694.8 1691.7V1699.2M1742.3 1691.7V1705.2M1789.7 1691.7V1699.2M1837.2 1691.7V1705.2M1884.6 1691.7V1699.2M1932 1691.7V1705.2M1979.5 1691.7V1699.2M2026.9 1691.7V1705.2M2074.4 1691.7V1699.2M2121.8 1691.7V1705.2M2169.3 1691.7V1699.2M2216.7 1691.7V1705.2M2264.2 1691.7V1699.2M2311.6 1691.7V1705.2" fill="none" stroke="#000" stroke-width="2"/>
<g font-family="'Liberation Sans', Arial, sans-serif" font-size="24.5"><text x="1319.8" y="1003.4" text-anchor="end">30</text><text x="1319.8" y="1056.8" text-anchor="end">20</text><text x="1319.8" y="1110.3" text-anchor="end">10</text><text x="1319.8" y="1163.7" text-anchor="end">0</text><text x="1319.8" y="1217.2" text-anchor="end">-10</text><text x="1319.8" y="1270.6" text-anchor="end">-20</text><text x="1319.8" y="1324.1" text-anchor="end">-30</text><text x="1319.8" y="1377.5" text-anchor="end">-40</text><text x="1319.8" y="1431" text-anchor="end">-50</text><text x="1319.8" y="1484.4" text-anchor="end">-60</text><text x="1319.8" y="1537.9" text-anchor="end">-70</text><text x="1319.8" y="1591.3" text-anchor="end">-80</text><text x="1319.8" y="1644.8" text-anchor="end">-90</text><text x="1319.8" y="1698.2" text-anchor="end">-100</text><text x="1362.7" y="1731.7" text-anchor="middle">0</text><text x="1457.6" y="1731.7" text-anchor="middle">200</text><text x="1552.5" y="1731.7" text-anchor="middle">400</text><text x="1647.4" y="1731.7" text-anchor="middle">600</text><text x="1742.3" y="1731.7" text-anchor="middle">800</text><text x="1837.2" y="1731.7" text-anchor="middle">1000</text><text x="1932" y="1731.7" text-anchor="middle">1200</text><text x="2026.9" y="1731.7" text-anchor="middle">1400</text><text x="2121.8" y="1731.7" text-anchor="middle">1600</text><text x="2216.7" y="1731.7" text-anchor="middle">1800</text><text x="2311.6" y="1731.7" text-anchor="middle">2000</text></g>
<text x="1824.3" y="1783" text-anchor="middle" font-family="'Liberation Sans', Arial, sans-serif" font-size="30.2">Time (s)</text>
<text transform="translate(1227.7 1364) rotate(-90)" text-anchor="middle" font-family="'Liberation Sans', Arial, sans-serif" font-size="30.6">Sensitivity (%)</text>
<text transform="translate(1190.4 1045.4) scale(1.046 1)" font-family="'Liberation Serif', 'Times New Roman', serif" font-size="74">(d)</text>
<path d="M2005.8 1611.3H2066" stroke="#000" stroke-width="4.7"/>
<path d="M2005.8 1643.2H2066" stroke="#f00" stroke-width="4.7"/>
<g font-family="'Liberation Sans', Arial, sans-serif" font-size="24.9"><text transform="translate(2069.8 1620) scale(1.0000 1)">20ppm Formaldehyde</text><text transform="translate(2069.8 1651.9) scale(1.0200 1)">20ppm Toluene</text></g>
<path d="M1365.4 1222.6C1365.4 1222.6 1365.2 1259 1365.4 1277.1C1365.5 1295.3 1365.8 1312.3 1366.2 1331.6C1366.7 1353.3 1367.3 1381.2 1368.1 1400.1C1368.4 1407.1 1369.2 1404.1 1369.5 1409.5C1370.1 1420.8 1370.1 1437.9 1370.8 1450.4C1371.4 1460.6 1372.6 1468.6 1373.5 1477.7C1374.5 1486.8 1375.1 1496.1 1376.3 1504.9C1377.4 1513.4 1378.7 1521.8 1380.4 1529.5C1381.9 1536.3 1383.6 1542.7 1385.8 1548.5C1387.7 1553.6 1390 1558.3 1392.6 1562.2C1395 1565.6 1398.1 1567.6 1400.8 1570.4C1403.5 1573.1 1406.1 1576.2 1409 1578.5C1411.6 1580.7 1414.1 1582.5 1417.2 1584C1420.5 1585.6 1424.4 1586.7 1428.1 1588.1C1431.7 1589.4 1435 1591.3 1439 1592.2C1443.2 1593.1 1448.5 1593 1452.6 1593.5C1455.8 1593.9 1457.9 1594.1 1460.8 1594.9C1464.2 1595.8 1468 1598 1471.7 1598.4C1475.3 1598.9 1479 1597.6 1482.6 1597.6C1486.2 1597.6 1489.6 1598.3 1493.5 1598.4C1497.8 1598.6 1503.6 1599.6 1507.1 1598.4C1509.9 1597.5 1510.8 1595 1512.6 1592.2C1514.9 1588.3 1517.3 1583.6 1519.4 1578.5C1521.8 1572.7 1523.9 1565.8 1526.2 1559.5C1528.5 1553.1 1530.7 1546.7 1533 1540.4C1535.3 1534 1537.7 1527.4 1539.8 1521.3C1541.8 1515.6 1543.7 1510.4 1545.3 1504.9C1546.9 1499.5 1548.1 1494.3 1549.4 1488.6C1550.8 1482.5 1552 1475.4 1553.5 1469.5C1554.7 1464.5 1556.3 1460.6 1557.6 1455.9C1559 1450.7 1560.2 1445.4 1561.6 1439.5C1563.3 1432.7 1565.2 1424.7 1567.1 1417.7C1568.9 1411.1 1570.7 1404.7 1572.5 1398.6C1574.3 1392.9 1576.5 1388.4 1578 1382.3C1579.7 1375.1 1580.4 1366 1582.1 1358.9C1583.6 1352.8 1585.7 1348 1587.5 1342.5C1589.4 1337.1 1591.4 1331.7 1593 1326.2C1594.6 1320.8 1595.7 1315 1597.1 1309.8C1598.4 1305.1 1599.5 1300.3 1601.2 1296.2C1602.7 1292.6 1604.7 1290.1 1606.6 1286.7C1608.8 1282.8 1611.5 1278.9 1613.4 1274.4C1615.6 1269.4 1617.1 1263.5 1618.9 1258C1620.7 1252.6 1622.1 1247.1 1624.3 1241.7C1626.6 1236.2 1629.6 1230.4 1632.5 1225.3C1635.1 1220.8 1638 1217.3 1640.7 1213.1C1643.5 1208.7 1646.2 1204 1648.9 1199.4C1651.6 1194.9 1653.9 1189.6 1657.1 1185.8C1659.8 1182.4 1663.9 1180.5 1666.6 1177.6C1668.9 1175.1 1670.3 1173.1 1672 1169.4C1674.4 1164.4 1676.6 1157 1678.9 1151.7C1680.7 1147.5 1682.3 1144.4 1684.3 1140.8C1686.4 1137.1 1688.4 1131.7 1691.1 1129.9C1693.4 1128.5 1697.1 1132.9 1699.3 1131.3C1702.1 1129.2 1703.3 1121.7 1706.1 1119C1708.3 1116.9 1711.8 1118 1714.3 1116.8C1716.8 1115.7 1719 1113.9 1721.1 1112.2C1723.1 1110.5 1724.9 1106.1 1726.6 1106.7C1728.5 1107.5 1730.1 1113.4 1732 1116.3C1733.7 1118.9 1735.5 1123.1 1737.5 1123.1C1739.6 1123.1 1742.4 1119.7 1744.3 1116.3C1746.9 1111.5 1748.8 1100.1 1751.1 1098.6C1752.9 1097.4 1754.7 1104.9 1756.6 1108.1C1758.4 1111.3 1759.9 1117.4 1762 1117.7C1764 1117.9 1766.7 1111.3 1768.8 1109.5C1770 1108.5 1770.7 1108.8 1771.8 1109.5C1773.5 1110.6 1775.4 1114.1 1777.3 1114.9C1778.6 1115.5 1780.2 1114.7 1781.4 1113.6C1782.9 1112 1784.1 1109.1 1785.4 1106.7C1787 1104.1 1789.1 1097.2 1790.1 1098.6C1791.4 1100.4 1791.8 1107.7 1792.3 1116.3C1793 1130.9 1793.2 1150.6 1793.6 1168.1C1794.1 1186 1794.5 1204.4 1795 1222.6C1795.4 1240.8 1795.9 1259 1796.3 1277.1C1796.8 1295.3 1797.4 1316 1797.7 1331.6C1797.9 1341.9 1797.5 1344.7 1797.7 1355C1798 1370.7 1798.4 1391.8 1799.1 1409.5C1799.7 1426.3 1800.6 1443.2 1801.8 1458.6C1802.9 1472.2 1804.4 1484.9 1805.9 1496.8C1807.1 1506.8 1808.3 1515.4 1810 1524C1811.5 1531.8 1813.4 1539.3 1815.4 1545.8C1817.1 1551.1 1818.8 1555.2 1820.9 1559.5C1822.9 1563.4 1825.1 1567.3 1827.7 1570.4C1830.1 1573.2 1832.8 1575 1835.9 1577.2C1839.2 1579.6 1843.1 1581.9 1846.8 1584C1850.4 1586 1854.1 1587.6 1857.7 1589.4C1861.3 1591.3 1864.9 1593.7 1868.6 1594.9C1872.1 1596 1875.9 1595.8 1879.5 1596.3C1883.1 1596.7 1886.8 1597 1890.4 1597.6C1894 1598.2 1897.7 1599.1 1901.3 1599.8C1904.9 1600.5 1908.6 1601.2 1912.2 1601.7C1915.8 1602.3 1919.5 1603.1 1923.1 1603.1C1926.7 1603.1 1931.3 1603.5 1934 1601.7C1936.7 1599.9 1937.7 1595.5 1939.5 1592.2C1941.3 1588.7 1942.9 1585.6 1944.9 1581.3C1947.5 1575.6 1950.5 1568.3 1953.1 1562.2C1955.5 1556.5 1957.7 1551.5 1959.9 1545.8C1962.3 1539.7 1964.5 1533.1 1966.7 1526.7C1969 1520.4 1971.3 1514.3 1973.5 1507.7C1975.9 1500.6 1978.3 1493.1 1980.4 1485.8C1982.4 1478.6 1984 1471.3 1985.8 1464C1987.6 1456.8 1989.7 1449.5 1991.3 1442.2C1992.8 1435 1994 1427.9 1995.3 1420.4C1996.8 1412.5 1997.9 1403.4 1999.4 1395.9C2000.7 1389.7 2002.4 1385.1 2003.5 1379.5C2004.7 1373.7 2005.1 1367.4 2006.3 1361.6C2007.4 1356 2009 1351 2010.3 1345.3C2011.8 1339.2 2013 1332.3 2014.4 1326.2C2015.7 1320.5 2017 1314.5 2018.5 1309.8C2019.7 1306.4 2021.4 1304.9 2022.6 1301.7C2024.1 1297.6 2025.3 1292.6 2026.7 1288C2028.1 1283.5 2028.8 1278.3 2030.8 1274.4C2032.5 1271 2035.7 1269 2037.6 1266.2C2039.4 1263.6 2040.6 1261.1 2041.7 1258C2042.9 1254.7 2043.2 1250.5 2044.4 1247.1C2045.5 1244.1 2047.1 1241.7 2048.5 1239C2049.9 1236.2 2051.6 1233.9 2052.6 1230.8C2053.8 1227.1 2054.3 1223.1 2055.3 1218.5C2056.6 1213.1 2058.1 1206.1 2059.4 1200.8C2060.4 1196.6 2061 1193.5 2062.1 1189.9C2063.3 1186.2 2064.4 1182.2 2066.2 1179C2068 1175.9 2070.7 1171 2073 1170.8C2075.3 1170.6 2078.1 1178.1 2079.9 1177.6C2081.7 1177.2 2082.7 1171.8 2083.9 1168.1C2085.4 1163.6 2086.6 1157.7 2088 1153.1C2089.3 1149.1 2090.5 1145.6 2092.1 1142.2C2093.7 1138.8 2095.7 1133.1 2097.6 1132.6C2099.3 1132.2 2101.2 1137.6 2103 1139.5C2104.4 1140.8 2106.2 1143.9 2107.1 1142.2C2108.9 1138.9 2109.8 1129.4 2111.2 1124.5C2112 1121.6 2112.9 1117.9 2113.9 1119C2115.6 1120.7 2117.7 1132.4 2119.4 1132.6C2120.9 1132.9 2122.2 1124.7 2123.5 1120.4C2124.9 1115.6 2125.9 1109.5 2127.6 1105.4C2128.6 1102.7 2129.9 1101.5 2131.7 1099.9C2133.5 1098.3 2136.1 1097 2138.5 1095.8C2140.7 1094.7 2143.2 1094.6 2145.3 1093.1C2147.7 1091.4 2149.9 1086.8 2152.1 1086.3C2154 1085.9 2155.9 1088.5 2157.5 1090.4C2159.5 1092.6 2161.1 1096.2 2163 1098.6C2164.7 1100.7 2166.7 1104.2 2168.5 1104C2170.3 1103.8 2172.5 1100.2 2173.9 1097.2C2175.7 1093.4 2176.5 1087.7 2178 1083.6C2179.2 1080 2179.9 1075.5 2182.1 1074C2184 1072.7 2187.9 1075.4 2190.3 1075.4C2192 1075.4 2192.9 1074.8 2194.4 1074C2196.1 1073 2197.8 1071.3 2199.8 1069.9C2201.9 1068.5 2204.4 1066.4 2206.6 1065.9C2208.5 1065.4 2210.3 1066.6 2212.1 1067.2C2213.9 1067.9 2217.5 1069.9 2217.5 1069.9" fill="none" stroke="#000" stroke-width="4.8" stroke-linejoin="round" stroke-linecap="round"/>
<path d="M1365.4 1174.9C1365.4 1174.9 1365.8 1197 1366.2 1209C1366.6 1222 1367.1 1236.2 1367.6 1249.9C1368 1263.5 1368.5 1277.1 1368.9 1290.8C1369.4 1304.4 1369.8 1318 1370.3 1331.6C1370.7 1345.3 1371.3 1360.3 1371.6 1372.5C1371.9 1381.8 1371.8 1386.7 1372.2 1395.9C1372.7 1408.1 1373.3 1424.3 1374.1 1436.8C1374.7 1447 1375.5 1455 1376.3 1464C1377.1 1473.1 1377.8 1482.7 1379 1491.3C1380.1 1499 1381.5 1506.1 1383.1 1513.1C1384.6 1519.7 1386.3 1526.7 1388.5 1532.2C1390.4 1536.6 1392.8 1540.6 1395.4 1543.1C1397.3 1545 1399.9 1545.5 1402.2 1545.3C1404.5 1545 1406.9 1543 1409 1541.7C1411 1540.5 1412.6 1539 1414.4 1537.6C1416.3 1536.3 1417.9 1534.4 1419.9 1533.6C1421.9 1532.7 1424.6 1533.4 1426.7 1532.7C1428.7 1532.1 1430.7 1530.7 1432.2 1529.5C1433.4 1528.5 1433.4 1526.7 1434.9 1526.2C1437 1525.5 1440.7 1526.9 1443.1 1525.9C1445.3 1525 1446.7 1521.9 1448.5 1520.7C1449.9 1519.9 1451.1 1519.8 1452.6 1519.9C1454.3 1520.1 1456.2 1522.1 1458.1 1521.8C1460.3 1521.5 1462.5 1518.8 1464.9 1518C1467.1 1517.3 1469.6 1517.1 1471.7 1517.5C1473.7 1517.8 1475.3 1519.7 1477.1 1519.9C1478.9 1520.1 1480.9 1519.2 1482.6 1518.6C1484.1 1518 1485.2 1516.2 1486.7 1516.4C1488.4 1516.6 1490.2 1519.9 1492.1 1519.9C1494.3 1519.9 1496.9 1516.7 1498.9 1516.4C1500.5 1516.1 1501.6 1517.3 1503 1518C1504.8 1518.8 1506.8 1521.1 1508.5 1520.7C1510.4 1520.4 1512.4 1518.4 1513.9 1515.8C1516.1 1512.2 1517.6 1507 1519.4 1502.2C1521.3 1497 1522.9 1490.9 1524.8 1485.8C1526.5 1481.4 1528.6 1477.3 1530.3 1473.6C1531.7 1470.5 1533.2 1468.8 1534.4 1465.4C1535.9 1461 1536.9 1455.5 1538.5 1450.4C1540.1 1445.1 1542 1439 1543.9 1434.1C1545.6 1429.9 1547.8 1426.8 1549.4 1423.2C1550.9 1419.6 1552.3 1416.6 1553.5 1412.2C1555 1406.6 1556.1 1399 1557.6 1393.2C1558.8 1388.1 1560.2 1384.7 1561.6 1379.5C1563.4 1373.2 1564.9 1364.6 1567.1 1358.9C1568.6 1355 1570.8 1353.7 1572.5 1350.7C1574.5 1347.4 1576.5 1343.8 1578 1339.8C1579.7 1335.6 1580.7 1330.7 1582.1 1326.2C1583.5 1321.6 1584.8 1317.1 1586.2 1312.6C1587.5 1308 1588.8 1303 1590.3 1298.9C1591.5 1295.7 1592.9 1293.7 1594.4 1290.8C1596.1 1287.3 1597.9 1283.2 1599.8 1279.9C1601.5 1276.8 1603.2 1273 1605.3 1271.7C1606.8 1270.7 1609.2 1274.2 1610.7 1273C1612.8 1271.4 1614.6 1267.3 1616.2 1263.5C1618.2 1258.7 1619.8 1252.5 1621.6 1247.1C1623.4 1242 1624.8 1235.6 1627.1 1232.1C1628.4 1230.1 1630.7 1230.4 1632.5 1230.8C1634.7 1231.3 1637.6 1235.7 1639.3 1234.9C1641.3 1233.9 1642 1229.1 1643.4 1225.3C1645.2 1220.5 1646.6 1212.7 1648.9 1209C1650.2 1206.8 1652.6 1206.8 1654.3 1207.6C1656.6 1208.6 1659.4 1215.1 1661.1 1214.4C1663 1213.7 1663.7 1207.2 1665.2 1203.5C1666.9 1199.5 1668.6 1191.7 1670.7 1191.3C1672.7 1190.8 1675.1 1198.9 1677.5 1200.8C1679.2 1202.1 1681.4 1202 1683 1200.8C1685 1199.2 1686.8 1196.1 1688.4 1192.6C1690.5 1188 1691.7 1177 1693.9 1176.3C1695.8 1175.6 1698.8 1188.5 1700.7 1188.5C1702.5 1188.5 1703.2 1179.7 1704.8 1176.3C1705.9 1173.8 1707.6 1170.2 1708.9 1170.8C1710.4 1171.6 1711.5 1181.2 1712.9 1180.3C1714.7 1179.3 1716.2 1166.1 1718.4 1165.4C1720.3 1164.7 1723.1 1176.3 1725.2 1176.3C1727.2 1176.3 1728.7 1168.7 1730.7 1165.4C1732.4 1162.3 1734.1 1157.2 1736.1 1157.2C1738.2 1157.2 1740.7 1162.9 1742.9 1165.4C1744.8 1167.4 1746.8 1171.6 1748.4 1170.8C1750.4 1169.8 1752.2 1163.4 1753.8 1159.9C1755.4 1156.6 1755.5 1151.9 1757.9 1150.4C1760.4 1148.8 1766.1 1148.3 1768.8 1150.4C1772.1 1152.8 1773.7 1163.8 1775.9 1164C1777.9 1164.2 1779.5 1155.8 1781.4 1151.7C1783.2 1147.6 1784.9 1142.2 1786.8 1139.5C1787.8 1138.1 1789.6 1137.4 1790.1 1139.5C1791.3 1145.1 1791.3 1154.1 1791.7 1162.6C1792.2 1172.7 1792.4 1183.8 1792.8 1195.3C1793.3 1208.3 1793.9 1221.5 1794.4 1236.2C1795.1 1253.3 1795.5 1273.7 1796.3 1290.8C1797.1 1305.5 1798.2 1318 1799.1 1331.6C1800 1345.3 1800.9 1361.2 1801.8 1372.5C1802.2 1378.1 1802.7 1377.6 1803.2 1382.3C1804 1390 1804.8 1400.4 1805.9 1409.5C1807 1418.6 1808.6 1427.9 1810 1436.8C1811.3 1445.2 1812.4 1453.4 1814.1 1461.3C1815.6 1468.8 1817.3 1476.6 1819.5 1483.1C1821.4 1488.5 1823.4 1493.3 1826.3 1496.8C1828.8 1499.7 1832.7 1500.8 1835.9 1502.2C1838.7 1503.5 1841.3 1504.2 1844.1 1504.9C1846.8 1505.6 1849.7 1505.8 1852.2 1506.3C1854.3 1506.7 1856 1506.8 1857.7 1507.7C1859.6 1508.6 1861.4 1510.6 1863.1 1511.7C1864.6 1512.6 1865.7 1513.5 1867.2 1513.7C1868.9 1513.8 1870.8 1513.1 1872.7 1512.6C1874.9 1512 1877.4 1510.3 1879.5 1510.4C1881.5 1510.5 1883.1 1511.9 1884.9 1513.1C1887.2 1514.6 1889.4 1517.2 1891.8 1518.6C1893.9 1519.8 1896.2 1520.5 1898.6 1520.7C1901.2 1521 1904.2 1519.7 1906.8 1519.9C1909.2 1520.1 1911.2 1521 1913.6 1521.8C1916.2 1522.8 1919 1525.2 1921.7 1525.4C1924.5 1525.5 1927.8 1522 1929.9 1522.7C1931.9 1523.3 1932.4 1529.2 1934 1529.5C1935.6 1529.7 1937.6 1526.1 1939.5 1524C1941.7 1521.6 1944.4 1518.7 1946.3 1515.8C1948 1513.2 1949.1 1510.8 1950.4 1507.7C1951.9 1504 1953 1499.2 1954.5 1495.4C1955.7 1492 1956.8 1488.9 1958.5 1485.8C1960.4 1482.6 1963.6 1479.9 1965.4 1476.3C1967.2 1472.6 1968 1468.7 1969.5 1464C1971.2 1458.3 1972.7 1450.6 1974.9 1445C1976.8 1440.2 1979.7 1436.5 1981.7 1432.7C1983.3 1429.6 1984.7 1427.5 1985.8 1424.5C1987 1421.2 1987.5 1417.6 1988.5 1413.6C1989.8 1408.9 1991.2 1403.2 1992.6 1398.6C1993.9 1394.6 1995.1 1391 1996.7 1387.7C1998.2 1384.7 2000.4 1382.5 2002.2 1379.5C2004.1 1376.2 2006 1371.7 2007.6 1368.6C2008.7 1366.6 2009.4 1366.8 2010.3 1364.4C2012.1 1359.9 2013.9 1353.2 2015.8 1348C2017.5 1343.2 2019.2 1338.2 2021.2 1334.4C2022.8 1331.4 2024.6 1329.2 2026.7 1327.6C2028.7 1326 2031.9 1326.7 2033.5 1324.8C2035.5 1322.6 2036.3 1318.6 2037.6 1315.3C2039 1311.8 2040.4 1308.1 2041.7 1304.4C2043.1 1300.4 2043.7 1294.2 2045.8 1292.1C2047.3 1290.6 2051 1294.9 2052.6 1293.5C2054.6 1291.7 2055.2 1285.9 2056.7 1282.6C2058 1279.6 2058.7 1275.3 2060.8 1274.4C2062.8 1273.5 2066.9 1278.4 2069 1277.1C2071.4 1275.6 2072.5 1270.2 2074.4 1266.2C2076.6 1261.6 2078.3 1252.7 2081.2 1251.2C2083.7 1250 2088.3 1258.7 2090.8 1258C2093.3 1257.4 2094.4 1250.8 2096.2 1247.1C2098 1243.5 2099.3 1237.2 2101.7 1236.2C2103.8 1235.4 2107.7 1242.5 2109.8 1241.7C2112.2 1240.7 2113.4 1234.3 2115.3 1230.8C2117.1 1227.5 2118.8 1221 2120.7 1221.2C2122.9 1221.5 2125.5 1232.4 2127.6 1232.1C2129.6 1231.9 2131.3 1223.2 2133 1219.9C2134 1218 2134.7 1215.9 2135.7 1216.6C2137.4 1217.7 2139.7 1225.9 2141.2 1225.3C2142.9 1224.7 2143.3 1214 2145.3 1213.1C2147 1212.2 2150.3 1220.9 2152.1 1219.9C2154.4 1218.6 2155.4 1207 2157.5 1206.2C2159.5 1205.6 2162.3 1216.6 2164.4 1215.8C2166.8 1214.8 2169.1 1204.9 2171.2 1200.8C2172.3 1198.5 2172.8 1195.6 2173.9 1196.7C2175.9 1198.7 2178.6 1211.2 2180.7 1210.3C2183.2 1209.4 2184.7 1192.2 2187.5 1191.3C2190.1 1190.4 2194.2 1206.1 2197.1 1204.9C2200.5 1203.4 2203.6 1184.6 2206.6 1183.1C2209 1181.9 2211.3 1195.1 2213.4 1196.7C2214.9 1197.8 2217.5 1191.3 2217.5 1191.3" fill="none" stroke="#f00" stroke-width="4.8" stroke-linejoin="round" stroke-linecap="round"/>
</svg></body></html>
